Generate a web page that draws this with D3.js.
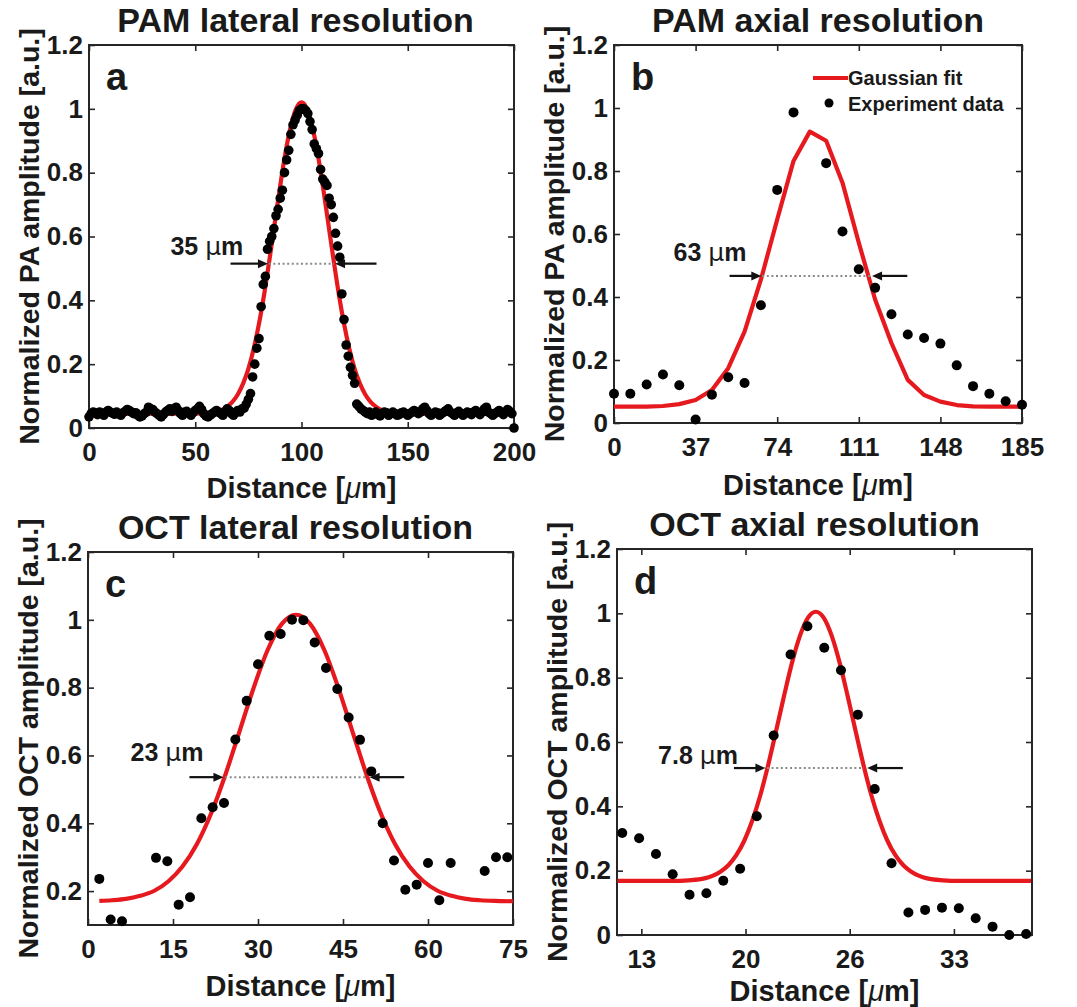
<!DOCTYPE html>
<html><head><meta charset="utf-8">
<script src="https://cdn.jsdelivr.net/npm/d3@7"></script>
<style>
html,body{margin:0;padding:0;background:#fff;}
svg{display:block;}
text{font-family:"Liberation Sans",Arial,Helvetica,sans-serif;font-weight:bold;fill:#1a1a1a;}
</style></head><body>
<svg id="chart" width="1077" height="1007"></svg>
<script>
// ---------- Panel a: PAM lateral (x = index * 1 µm) ----------
const aStep = 1;
const aY = [
0.035,0.045,0.05,0.048,0.042,0.05,0.046,0.04,0.05,0.055,
0.05,0.047,0.043,0.05,0.045,0.04,0.048,0.052,0.058,0.055,
0.05,0.045,0.048,0.04,0.035,0.038,0.045,0.05,0.065,0.06,
0.058,0.05,0.045,0.04,0.035,0.042,0.05,0.055,0.06,0.052,
0.06,0.065,0.055,0.045,0.04,0.05,0.052,0.045,0.04,0.048,
0.055,0.06,0.068,0.058,0.045,0.038,0.035,0.04,0.045,0.05,
0.055,0.05,0.045,0.04,0.05,0.06,0.055,0.045,0.04,0.048,
0.055,0.05,0.06,
0.062,0.075,0.09,0.108,0.16,0.2,0.25,0.28,0.38,0.45,
0.475,0.56,0.585,0.6,0.625,0.665,0.685,0.72,0.745,0.8,
0.84,0.87,0.92,0.95,0.965,0.98,0.995,1.0,1.0,0.995,
0.985,0.96,0.935,0.89,0.875,0.86,0.81,0.78,0.77,0.76,
0.72,0.7,0.66,0.61,0.57,0.535,0.42,0.34,0.26,0.225,
0.19,0.165,0.14,0.075,0.068,0.06,0.055,0.05,
0.045,0.05,0.04,0.045,0.05,0.042,0.038,0.045,0.05,0.048,
0.04,0.045,0.05,0.045,0.04,0.042,0.048,0.05,0.045,0.04,
0.045,0.05,0.055,0.05,0.045,0.05,0.06,0.065,0.055,0.045,
0.04,0.045,0.05,0.048,0.04,0.045,0.05,0.055,0.06,0.05,
0.045,0.04,0.048,0.052,0.045,0.04,0.045,0.05,0.048,0.042,
0.05,0.055,0.048,0.042,0.05,0.06,0.065,0.05,0.045,0.04,
0.045,0.05,0.055,0.048,0.042,0.05,0.058,0.052,0.045,
0.0];
const aFitX = [0,50,55,57.5,60,62.5,65,67.5,70,72.5,75,77.5,80,82.5,85,87.5,90,92.5,95,97.5,100,
               102.5,105,107.5,110,112.5,115,117.5,120,122.5,125,127.5,130,132.5,135,137.5,140,142.5,145,150,200];
const aFitY = [0.045,0.045,0.047,0.049,0.052,0.057,0.067,0.082,0.105,0.139,0.185,0.248,0.327,0.422,0.531,0.646,0.760,0.864,0.947,1.001,1.02,
               1.001,0.947,0.864,0.760,0.646,0.531,0.422,0.327,0.248,0.185,0.139,0.105,0.082,0.067,0.057,0.052,0.049,0.047,0.045,0.045];
const aXTicks = [0,50,100,150,200];
const aXLabels = ["0","50","100","150","200"];

// ---------- Panel b: PAM axial ----------
const bX = [0,7.4,14.8,22.2,29.6,37,44.4,51.8,59.2,66.6,74,81.4,96.2,103.6,111,118.4,125.8,133.2,140.6,148,155.4,162.8,170.2,177.6,185];
const bY = [0.093,0.093,0.122,0.154,0.12,0.011,0.09,0.145,0.127,0.374,0.74,0.986,0.825,0.608,0.488,0.429,0.345,0.281,0.27,0.252,0.183,0.117,0.093,0.069,0.058];
const bFitX = [0,7.4,14.8,22.2,29.6,37,44.4,51.8,59.2,66.6,74,81.4,88.8,96.2,103.6,111,118.4,125.8,133.2,140.6,148,155.4,162.8,170.2,177.6,185];
const bFitY = [0.052,0.052,0.052,0.054,0.06,0.073,0.105,0.174,0.29,0.455,0.646,0.832,0.925,0.896,0.763,0.572,0.392,0.254,0.137,0.089,0.068,0.057,0.053,0.052,0.052,0.052];
const bXTicks = [0,37,74,111,148,185];
const bXLabels = ["0","37","74","111","148","185"];

// ---------- Panel c: OCT lateral ----------
const cX = [2,4,6,12,14,16,18,20,22,24,26,28,30,32,34,36,38,40,42,44,46,48,50,52,54,56,58,60,62,64,70,72,74];
const cY = [0.236,0.116,0.111,0.298,0.288,0.16,0.182,0.415,0.447,0.46,0.647,0.761,0.869,0.953,0.958,1.0,0.999,0.933,0.858,0.796,0.712,0.646,0.553,0.4,0.29,0.204,0.219,0.283,0.173,0.283,0.259,0.3,0.3];
const cFitX = [2,4.2,6.7,9.2,11.7,14.2,16.7,19.2,21.7,24.2,26.7,29.2,31.7,34.2,36.7,39.2,41.7,44.2,46.7,49.2,51.7,54.2,56.7,59.2,61.7,64.2,66.7,69.2,71.7,75];
const cFitY = [0.171,0.173,0.177,0.186,0.201,0.229,0.273,0.338,0.428,0.541,0.669,0.798,0.911,0.988,1.015,0.988,0.911,0.798,0.669,0.541,0.428,0.338,0.273,0.229,0.201,0.186,0.177,0.173,0.171,0.170];
const cXTicks = [0,15,30,45,60,75];
const cXLabels = ["0","15","30","45","60","75"];

// ---------- Panel d: OCT axial ----------
const dX = [11.9,12.96,14.02,15.07,16.13,17.19,18.25,19.31,20.36,21.42,22.48,23.54,24.6,25.65,26.71,27.77,28.83,29.89,30.94,32.0,33.06,34.12,35.18,36.23,37.29];
const dY = [0.317,0.301,0.252,0.189,0.125,0.13,0.169,0.206,0.369,0.62,0.872,0.96,0.893,0.823,0.685,0.454,0.223,0.07,0.078,0.085,0.083,0.052,0.026,0.0,0.003];
const dFitX = [11.6,15.07,16.07,17.07,17.57,18.07,18.57,19.07,19.57,20.07,20.57,21.07,21.57,22.07,22.57,23.07,23.57,24.07,
               24.57,25.07,25.57,26.07,26.57,27.07,27.57,28.07,28.57,29.07,29.57,30.07,30.57,31.07,32.07,33.07,37.6];
const dFitY = [0.168,0.168,0.170,0.176,0.184,0.197,0.217,0.248,0.293,0.355,0.433,0.528,0.634,0.743,0.846,0.930,0.986,1.005,
               0.986,0.930,0.846,0.743,0.634,0.528,0.433,0.355,0.293,0.248,0.217,0.197,0.184,0.176,0.170,0.168,0.168];
const dXTicks = [13.1,19.65,26.2,32.75];
const dXLabels = ["13","20","26","33"];

const yTicks0 = [0,0.2,0.4,0.6,0.8,1,1.2];
const yLabels0 = ["0","0.2","0.4","0.6","0.8","1","1.2"];
const yTicksC = [0.2,0.4,0.6,0.8,1,1.2];
const yLabelsC = ["0.2","0.4","0.6","0.8","1","1.2"];

const RED = "#e6191f", AX = "#262626";

const panels = [
 {box:{l:89,r:514,t:45,b:428}, xd:[0,200], yd:[0,1.2], xt:aXTicks, xl:aXLabels, yt:yTicks0, yl:yLabels0,
  title:"PAM lateral resolution", tdx:-6, ylab:"Normalized PA amplitude [a.u.]", letter:"a",
  pts:aY.map((v,i)=>[i*aStep,v]), fit:aFitX.map((x,i)=>[x,aFitY[i]]), curve:d3.curveMonotoneX, r:4.8, xtDy:70,
  fw:{y:0.515,x1:84.6,x2:115.3,la:[66.6,84.2],ra:[135.3,115.8],txt:"35",tx:38.3,ty:0.542}},
 {box:{l:614,r:1022,t:45,b:423}, xd:[0,185], yd:[0,1.2], xt:bXTicks, xl:bXLabels, yt:yTicks0, yl:yLabels0,
  title:"PAM axial resolution", tdx:0, ylab:"Normalized PA amplitude [a.u.]", letter:"b",
  pts:bX.map((x,i)=>[x,bY[i]]), fit:bFitX.map((x,i)=>[x,bFitY[i]]), curve:d3.curveLinear, r:5, xtDy:72, legend:true,
  fw:{y:0.467,x1:67.2,x2:116.4,la:[52.4,66.8],ra:[133,117],txt:"63",tx:27,ty:0.514}},
 {box:{l:88,r:513,t:552,b:925}, xd:[0,75], yd:[0.1,1.2], xt:cXTicks, xl:cXLabels, yt:yTicksC, yl:yLabelsC,
  title:"OCT lateral resolution", tdx:-5, ylab:"Normalized OCT amplitude [a.u.]", letter:"c",
  pts:cX.map((x,i)=>[x,cY[i]]), fit:cFitX.map((x,i)=>[x,cFitY[i]]), curve:d3.curveMonotoneX, r:5, xtDy:71,
  fw:{y:0.536,x1:24.2,x2:49.2,la:[17.9,23.9],ra:[55.8,49.7],txt:"23",tx:7.5,ty:0.583}},
 {box:{l:617,r:1032,t:549,b:935}, xd:[11.57,37.66], yd:[0,1.2], xt:dXTicks, xl:dXLabels, yt:yTicks0, yl:yLabels0,
  title:"OCT axial resolution", tdx:-10, ylab:"Normalized OCT amplitude [a.u.]", letter:"d",
  pts:dX.map((x,i)=>[x,dY[i]]), fit:dFitX.map((x,i)=>[x,dFitY[i]]), curve:d3.curveMonotoneX, r:5, xtDy:66,
  fw:{y:0.519,x1:21.0,x2:27.1,la:[18.92,20.9],ra:[29.54,27.3],txt:"7.8",tx:14.15,ty:0.532}}
];

const svg = d3.select("#chart");
svg.append("rect").attr("width",1077).attr("height",1007).attr("fill","#fff");

function arrow(g, x0, x1, y) {
  const dir = x1 > x0 ? 1 : -1, hl = 10, hw = 4.5;
  g.append("line").attr("x1",x0).attr("x2",x1-dir*hl+dir*1).attr("y1",y).attr("y2",y)
    .attr("stroke","#111").attr("stroke-width",2.2);
  g.append("path").attr("d",`M${x1},${y}L${x1-dir*hl},${y-hw}L${x1-dir*hl},${y+hw}Z`).attr("fill","#111");
}

panels.forEach(p => {
  const b = p.box;
  const x = d3.scaleLinear().domain(p.xd).range([b.l,b.r]);
  const y = d3.scaleLinear().domain(p.yd).range([b.b,b.t]);
  const g = svg.append("g");

  const ax = [
    {a:d3.axisBottom(x).tickValues(p.xt).tickFormat((d,i)=>p.xl[i]).tickPadding(15), tr:`translate(0,${b.b})`},
    {a:d3.axisTop(x).tickValues(p.xt).tickFormat(""), tr:`translate(0,${b.t})`},
    {a:d3.axisLeft(y).tickValues(p.yt).tickFormat((d,i)=>p.yl[i]).tickPadding(6), tr:`translate(${b.l},0)`},
    {a:d3.axisRight(y).tickValues(p.yt).tickFormat(""), tr:`translate(${b.r},0)`}
  ];
  ax.forEach(o => {
    const ga = g.append("g").attr("transform",o.tr).call(o.a.tickSizeInner(-6).tickSizeOuter(0));
    ga.select(".domain").remove();
    ga.selectAll(".tick line").attr("stroke",AX).attr("stroke-width",1.6);
    ga.selectAll(".tick text").attr("font-size",26).attr("fill","#1f1f1f")
      .attr("font-family",'"Liberation Sans",Arial,sans-serif').attr("font-weight","bold");
  });
  g.append("rect").attr("x",b.l).attr("y",b.t).attr("width",b.r-b.l).attr("height",b.b-b.t)
    .attr("fill","none").attr("stroke",AX).attr("stroke-width",2);

  g.append("path").datum(p.fit)
    .attr("d",d3.line().x(d=>x(d[0])).y(d=>y(d[1])).curve(p.curve))
    .attr("fill","none").attr("stroke",RED).attr("stroke-width",4.2).attr("stroke-linejoin","round");

  g.selectAll("circle.pt").data(p.pts).join("circle").attr("class","pt")
    .attr("cx",d=>x(d[0])).attr("cy",d=>y(d[1])).attr("r",p.r).attr("fill","#000");

  const fy = y(p.fw.y);
  g.append("line").attr("x1",x(p.fw.x1)).attr("x2",x(p.fw.x2)).attr("y1",fy).attr("y2",fy)
    .attr("stroke","#8a8a8a").attr("stroke-width",2).attr("stroke-dasharray","2,2.6");
  arrow(g, x(p.fw.la[0]), x(p.fw.la[1]), fy);
  arrow(g, x(p.fw.ra[0]), x(p.fw.ra[1]), fy);
  const ft = g.append("text").attr("x",x(p.fw.tx)).attr("y",y(p.fw.ty)).attr("font-size",25);
  ft.append("tspan").text(p.fw.txt + " ");
  ft.append("tspan").attr("font-weight","normal").attr("font-family","'DejaVu Sans',sans-serif").text("\u03BC");
  ft.append("tspan").text("m");

  g.append("text").attr("x",(b.l+b.r)/2 + p.tdx).attr("y",b.t-13).attr("text-anchor","middle")
    .attr("font-size",34).text(p.title);
  const xt = g.append("text").attr("x",(b.l+b.r)/2).attr("y",b.b+p.xtDy).attr("text-anchor","middle")
    .attr("font-size",29).attr("fill","#2a2a2a");
  xt.append("tspan").text("Distance [");
  xt.append("tspan").attr("font-style","italic").attr("font-weight","normal").text("\u03BC");
  xt.append("tspan").text("m]");
  g.append("text").attr("transform",`translate(${b.l-50},${(b.t+b.b)/2}) rotate(-90)`)
    .attr("text-anchor","middle").attr("font-size",28.5).attr("fill","#2a2a2a").text(p.ylab);
  g.append("text").attr("x",b.l+17).attr("y",b.t+45).attr("font-size",38).attr("fill","#111").text(p.letter);

  if (p.legend) {
    const ly1 = b.t+33, ly2 = b.t+58;
    g.append("line").attr("x1",b.l+199).attr("x2",b.l+234).attr("y1",ly1).attr("y2",ly1)
      .attr("stroke",RED).attr("stroke-width",4.2);
    g.append("text").attr("x",b.l+234).attr("y",b.t+40).attr("font-size",20).text("Gaussian fit");
    g.append("circle").attr("cx",b.l+215).attr("cy",ly2).attr("r",4.5).attr("fill","#000");
    g.append("text").attr("x",b.l+234).attr("y",b.t+66).attr("font-size",20).text("Experiment data");
  }
});
</script>
</body></html>
